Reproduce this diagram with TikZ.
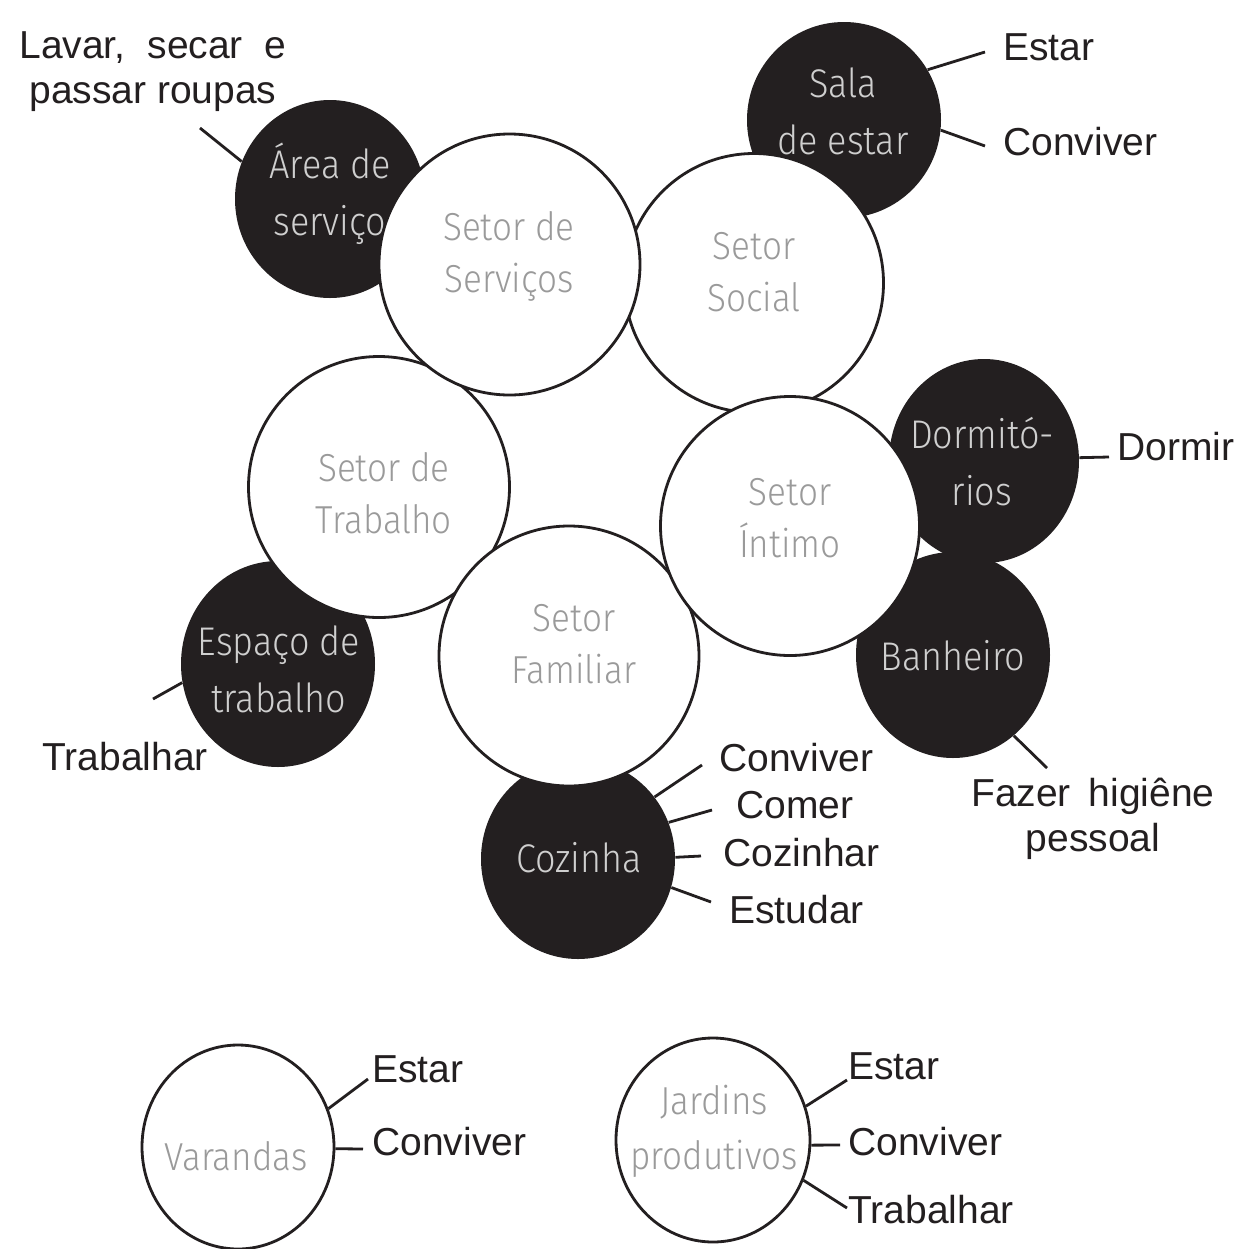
\documentclass[tikz,border=0pt]{standalone}
\usepackage{fontspec}
\setmainfont{Liberation Sans}
\newfontfamily\thinfont{Fira Sans Light}[FakeStretch=0.9]
\usetikzlibrary{shapes.geometric}
\definecolor{ink}{HTML}{231F20}
\definecolor{wtxt}{HTML}{9A9A9A}
\definecolor{btxt}{HTML}{CFCFCF}
\begin{document}
\begin{tikzpicture}[x=0.5pt,y=-0.5pt,
  darkzone/.style={ellipse, fill=ink, draw=none, inner sep=0pt},
  sector/.style={circle, draw=ink, line width=1.4pt, fill=white, inner sep=0pt},
  openzone/.style={ellipse, draw=ink, line width=1.4pt, fill=white, inner sep=0pt},
  intxt/.style={text=wtxt, font=\thinfont\fontsize{19.5}{26}\selectfont, align=center, inner sep=0pt},
  inblk/.style={text=btxt, font=\thinfont\fontsize{20}{28.5}\selectfont, align=center, inner sep=0pt},
  act/.style={text=ink, font=\fontsize{19.5}{22.5}\selectfont, inner sep=0pt},
  link/.style={draw=ink, line width=1.4pt}]
\fill[white] (0,0) rectangle (1242,1249);
\useasboundingbox (0,0) rectangle (1242,1249);

% dark rooms
\node[darkzone, minimum width=95pt, minimum height=99pt] (area) at (330,199) {};
\node[darkzone, minimum width=97pt, minimum height=98pt] (sala) at (844,120) {};
\node[darkzone, minimum width=95pt, minimum height=102pt] (dorm) at (984,461) {};
\node[darkzone, minimum width=97pt, minimum height=103pt] (banh) at (953,655) {};
\node[darkzone, minimum width=97pt, minimum height=103pt] (espaco) at (278,664) {};
\node[darkzone, minimum width=97pt, minimum height=100pt] (cozinha) at (578,859) {};

\node[inblk] (t-area) at (330,194) {Área de\\serviço};
\node[inblk] (t-sala) at (843,111) {Sala\\de estar};
\node[inblk] (t-dorm) at (982,462) {Dormitó-\\rios};
\node[inblk] (t-banh) at (953,656) {Banheiro};
\node[inblk] (t-espaco) at (279,669) {Espaço de\\trabalho};
\node[inblk] (t-cozinha) at (579,858) {Cozinha};

% sectors
\node[sector, minimum size=129.5pt] (social) at (754,283) {};
\node[sector, minimum size=130.5pt] (trabalho) at (379,487) {};
\node[sector, minimum size=130.5pt] (servicos) at (509.5,264.5) {};
\node[sector, minimum size=130pt] (familiar) at (569,656) {};
\node[sector, minimum size=129.5pt] (intimo) at (790,526) {};

\node[intxt] (t-servicos) at (509,256) {Setor de\\Serviços};
\node[intxt] (t-social) at (754,272) {Setor\\Social};
\node[intxt] (t-trabalho) at (384,493) {Setor de\\Trabalho};
\node[intxt] (t-familiar) at (574,644) {Setor\\Familiar};
\node[intxt] (t-intimo) at (790,518) {Setor\\Íntimo};

% open areas
\node[openzone, minimum width=96pt, minimum height=102pt] (varandas) at (238,1147) {};
\node[openzone, minimum width=97pt, minimum height=102pt] (jardins) at (713,1140) {};
\node[intxt] (t-varandas) at (236,1156) {Varandas};
\node[intxt, font=\thinfont\fontsize{19.5}{27.5}\selectfont] (t-jardins) at (714,1131) {Jardins\\produtivos};

% connector ends
\coordinate (e-area) at (200,128);
\coordinate (e-sala1) at (985,52);
\coordinate (e-sala2) at (985,146);
\coordinate (e-dorm) at (1109,457);
\coordinate (e-banh) at (1047,768);
\coordinate (e-espaco) at (153,699);
\coordinate (e-coz1) at (702,765);
\coordinate (e-coz2) at (712,810);
\coordinate (e-coz3) at (701,856);
\coordinate (e-coz4) at (711,902);
\coordinate (e-var1) at (368,1079);
\coordinate (e-var2) at (363,1149);
\coordinate (e-jar1) at (847,1080);
\coordinate (e-jar2) at (840,1145);
\coordinate (e-jar3) at (847,1208);

\draw[link] (area.157.5) -- (e-area);
\draw[link] (sala.31.6) -- (e-sala1);
\draw[link] (sala.-6) -- (e-sala2);
\draw[link] (dorm.2.4) -- (e-dorm);
\draw[link] (banh.-53.8) -- (e-banh);
\draw[link] (espaco.-169) -- (e-espaco);
\draw[link] (cozinha.39.4) -- (e-coz1);
\draw[link] (cozinha.22.4) -- (e-coz2);
\draw[link] (cozinha.1.8) -- (e-coz3);
\draw[link] (cozinha.-17.9) -- (e-coz4);
\draw[link] (varandas.23.3) -- (e-var1);
\draw[link] (varandas.-1) -- (e-var2);
\draw[link] (jardins.20.5) -- (e-jar1);
\draw[link] (jardins.-3) -- (e-jar2);
\draw[link] (jardins.-24) -- (e-jar3);

% activity labels
\node[act, align=center] (l-area) at (153,72) {Lavar,\hspace{11pt}secar\hspace{11pt}e\\passar roupas};
\node[act, anchor=base west] (l-sala1) at (1003,60) {Estar};
\node[act, anchor=base west] (l-sala2) at (1003,155) {Conviver};
\node[act, anchor=base west] (l-dorm) at (1117,460) {Dormir};
\node[act, align=center] (l-banh) at (1093,819) {Fazer\hspace{9pt}higiêne\\pessoal};
\node[act, anchor=base west] (l-espaco) at (42,770) {Trabalhar};
\node[act, anchor=base west] (l-coz1) at (719,771) {Conviver};
\node[act, anchor=base west] (l-coz2) at (736,818) {Comer};
\node[act, anchor=base west] (l-coz3) at (723,866) {Cozinhar};
\node[act, anchor=base west] (l-coz4) at (729,923) {Estudar};
\node[act, anchor=base west] (l-var1) at (372,1082) {Estar};
\node[act, anchor=base west] (l-var2) at (372,1155) {Conviver};
\node[act, anchor=base west] (l-jar1) at (848,1079) {Estar};
\node[act, anchor=base west] (l-jar2) at (848,1155) {Conviver};
\node[act, anchor=base west] (l-jar3) at (848,1223) {Trabalhar};
\end{tikzpicture}
\end{document}
